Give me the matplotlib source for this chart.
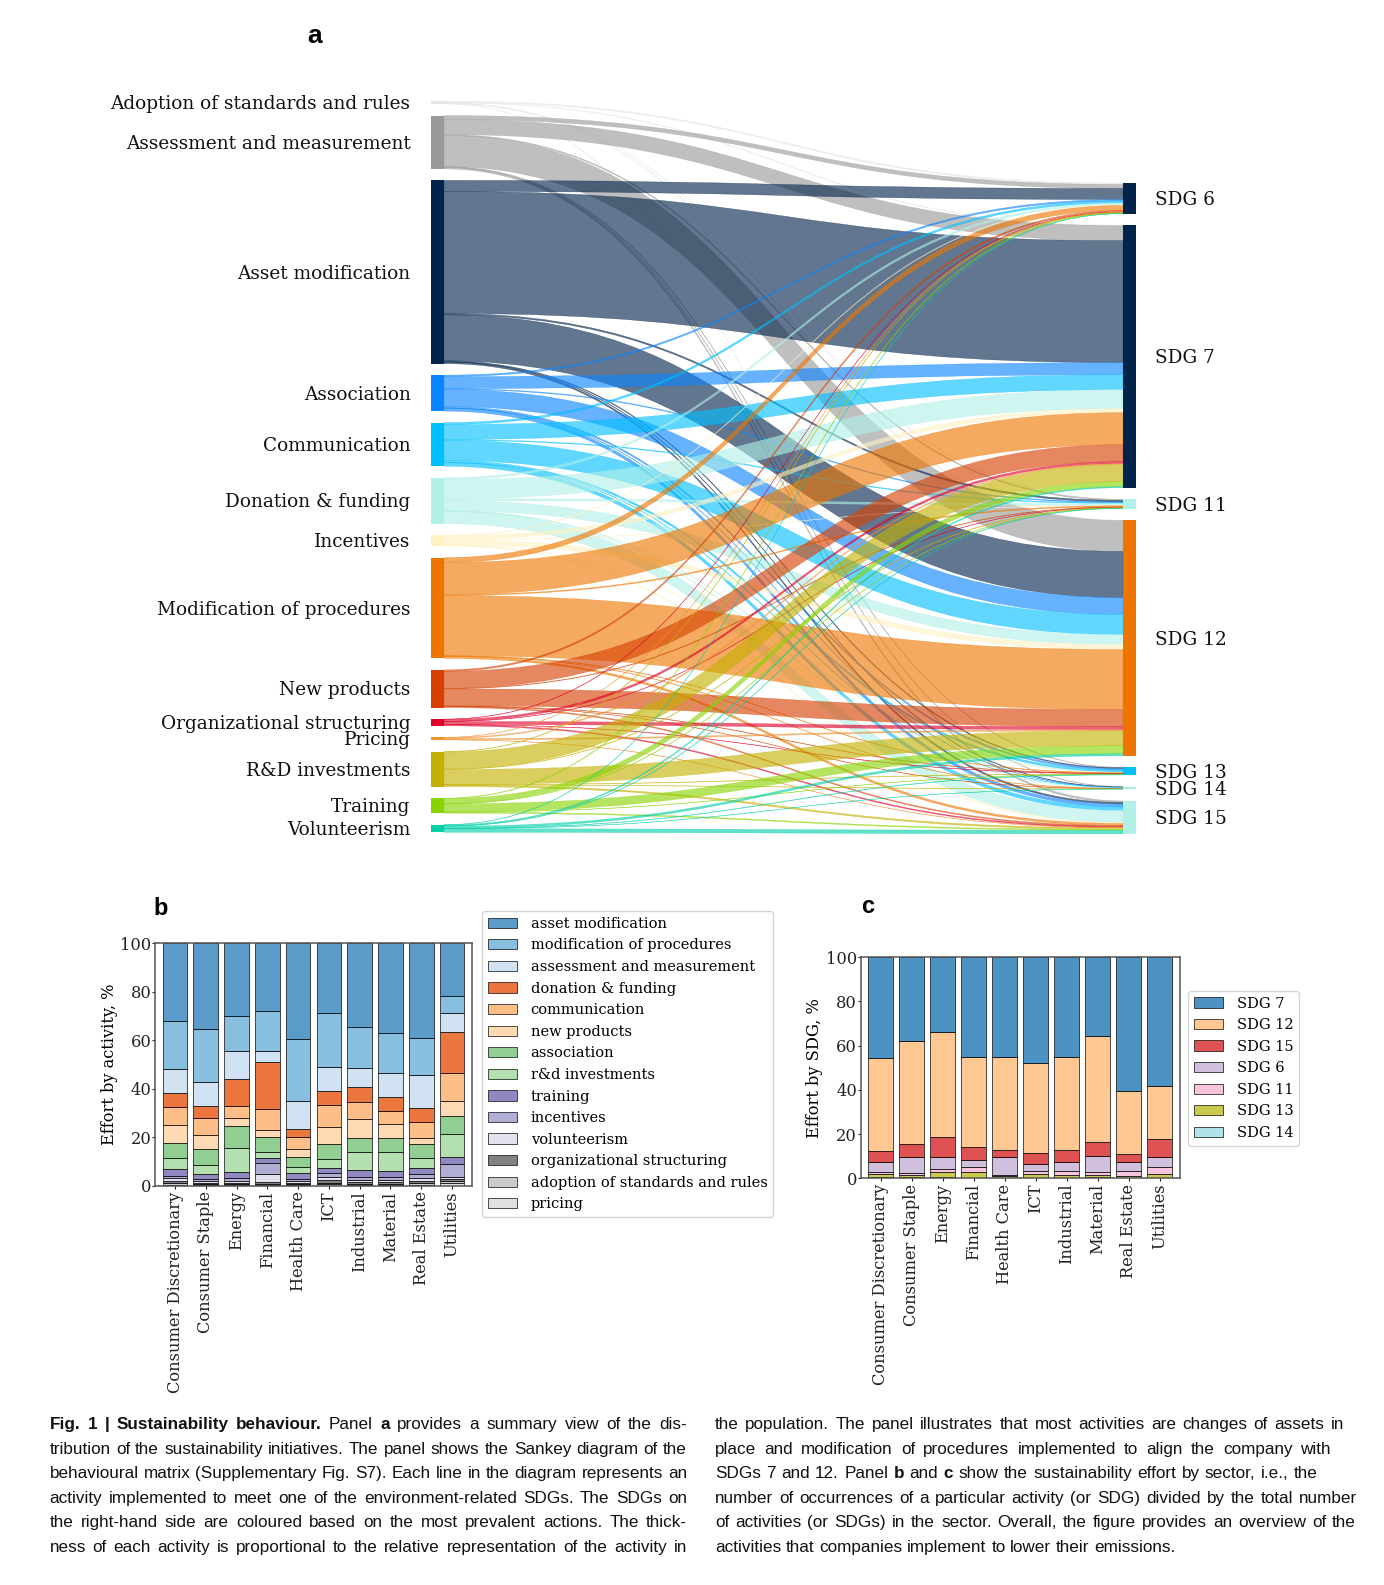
import numpy as np
import matplotlib
matplotlib.use('Agg')
import matplotlib.pyplot as plt
from matplotlib.path import Path
from matplotlib.patches import PathPatch, Rectangle
from matplotlib import font_manager as fm
import matplotlib.transforms as mtransforms

# ------------------------------------------------------------------ data
# Panel a : Sankey (activity -> SDG flows)
activities = ['Adoption of standards and rules', 'Assessment and measurement',
              'Asset modification', 'Association', 'Communication',
              'Donation & funding', 'Incentives', 'Modification of procedures',
              'New products', 'Organizational structuring', 'Pricing',
              'R&D investments', 'Training', 'Volunteerism']
activity_colors = ['#e4e6e6', '#999999', '#02234a', '#0a84ff', '#00bfff',
                   '#b0f0e6', '#fff2c4', '#ee7600', '#d64000', '#e0002a',
                   '#f09030', '#c4b000', '#88d400', '#00d0a8']
sdgs = ['SDG 6', 'SDG 7', 'SDG 11', 'SDG 12', 'SDG 13', 'SDG 14', 'SDG 15']
#                      SDG6  SDG7  SDG11 SDG12 SDG13 SDG14 SDG15
flow_adoption       = [1.5,  0.5,  0.2,  0.5,  0.0,  0.0,  0.3]
flow_assessment     = [4.0, 15.0,  1.0, 31.0,  0.5,  0.4,  1.5]
flow_asset          = [11.0, 122.0, 1.5, 46.0, 0.8,  0.4,  1.5]
flow_association    = [1.5, 12.0,  0.8, 17.0,  1.5,  0.2,  3.0]
flow_communication  = [2.0, 15.0,  0.8, 20.0,  2.0,  0.3,  3.5]
flow_donation       = [2.0, 19.0,  2.0, 10.0,  0.4,  0.5, 12.0]
flow_incentives     = [0.5,  4.0,  0.3,  5.0,  0.2,  0.0,  1.0]
flow_modproc        = [5.0, 32.0,  1.0, 60.0,  0.5,  0.3,  2.0]
flow_newproducts    = [1.5, 17.0,  0.5, 17.0,  0.4,  0.2,  1.0]
flow_orgstruct      = [0.3,  2.0,  0.2,  3.0,  0.3,  0.0,  1.0]
flow_pricing        = [0.2,  1.0,  0.0,  1.2,  0.0,  0.0,  0.3]
flow_rnd            = [0.5, 17.0,  0.5, 15.0,  0.4,  0.2,  1.5]
flow_training       = [0.5,  5.0,  0.3,  8.0,  0.3,  0.0,  1.0]
flow_volunteerism   = [0.2,  1.0,  0.3,  2.0,  0.4,  0.2,  3.5]

# Panel b : effort by activity, %
sectors = ['Consumer Discretionary', 'Consumer Staple', 'Energy', 'Financial',
           'Health Care', 'ICT', 'Industrial', 'Material', 'Real Estate', 'Utilities']
b_labels = ['asset modification', 'modification of procedures',
            'assessment and measurement', 'donation & funding', 'communication',
            'new products', 'association', 'r&d investments', 'training',
            'incentives', 'volunteerism', 'organizational structuring',
            'adoption of standards and rules', 'pricing']
b_colors = ['#3182bd', '#6baed6', '#c6dbef', '#e6550d', '#fdae6b', '#fdd0a2',
            '#74c476', '#a1d99b', '#756bb1', '#9e9ac8', '#dadaeb', '#636363',
            '#bdbdbd', '#d9d9d9']
b_asset        = [32.2, 35.2, 30.1, 28.1, 39.7, 29.0, 34.5, 37.0, 39.3, 21.8]
b_modproc      = [19.7, 22.2, 14.3, 16.3, 25.4, 22.0, 16.9, 16.4, 15.1, 7.2]
b_assessment   = [10.0, 9.6, 11.5, 4.6, 11.5, 9.8, 7.8, 9.9, 13.7, 7.6]
b_donation     = [5.5, 5.1, 11.1, 19.2, 3.4, 5.9, 6.4, 6.0, 5.7, 16.7]
b_communication= [7.3, 6.8, 5.1, 8.8, 4.7, 9.1, 7.0, 5.2, 6.6, 11.8]
b_newproducts  = [7.8, 5.8, 3.1, 2.7, 3.5, 7.1, 7.8, 5.9, 2.5, 6.0]
b_association  = [6.1, 6.5, 9.0, 6.2, 3.9, 6.0, 5.8, 5.8, 5.7, 7.5]
b_rnd          = [4.6, 3.9, 10.0, 2.7, 2.7, 3.8, 7.1, 7.8, 4.1, 9.6]
b_training     = [2.6, 2.0, 2.6, 2.1, 2.3, 2.1, 3.1, 2.4, 2.5, 2.6]
b_incentives   = [1.0, 0.8, 1.0, 4.4, 0.8, 1.4, 1.1, 1.1, 1.6, 5.6]
b_volunteerism = [1.1, 0.7, 0.8, 3.4, 0.9, 1.3, 0.9, 0.9, 1.1, 0.7]
b_orgstruct    = [1.0, 0.6, 0.7, 0.7, 0.5, 1.1, 0.6, 0.6, 1.0, 1.0]
b_adoption     = [0.6, 0.4, 0.4, 0.4, 0.4, 0.7, 0.5, 0.5, 0.6, 0.7]
b_pricing      = [0.5, 0.4, 0.3, 0.4, 0.3, 0.7, 0.5, 0.5, 0.5, 1.2]

# Panel c : effort by SDG, %
c_labels = ['SDG 7', 'SDG 12', 'SDG 15', 'SDG 6', 'SDG 11', 'SDG 13', 'SDG 14']
c_colors = ['#1f77b4', '#ffbb78', '#d62728', '#c5b0d5', '#f7b6d2', '#bcbd22', '#9edae5']
c_sdg7  = [45.7, 37.9, 33.9, 45.2, 44.9, 47.7, 45.2, 35.6, 60.5, 58.1]
c_sdg12 = [41.8, 46.7, 47.4, 40.5, 42.3, 41.0, 42.0, 48.1, 28.6, 24.3]
c_sdg15 = [5.0, 5.9, 9.0, 6.0, 3.0, 5.0, 5.3, 6.0, 3.4, 8.1]
c_sdg6  = [4.8, 7.2, 5.6, 3.0, 8.3, 3.0, 4.0, 7.3, 4.2, 4.5]
c_sdg11 = [0.7, 0.6, 1.4, 2.6, 0.4, 1.3, 2.0, 1.5, 2.1, 3.2]
c_sdg13 = [1.5, 1.2, 2.2, 2.4, 0.8, 1.7, 1.2, 1.0, 0.9, 1.5]
c_sdg14 = [0.5, 0.5, 0.5, 0.3, 0.3, 0.3, 0.3, 0.5, 0.3, 0.3]

# Caption (words starting with '*' are bold)
cap_left = [
    "*Fig. *1 *| *Sustainability *behaviour. Panel *a provides a summary view of the dis-",
    "tribution of the sustainability initiatives. The panel shows the Sankey diagram of the",
    "behavioural matrix (Supplementary Fig. S7). Each line in the diagram represents an",
    "activity implemented to meet one of the environment-related SDGs. The SDGs on",
    "the right-hand side are coloured based on the most prevalent actions. The thick-",
    "ness of each activity is proportional to the relative representation of the activity in",
]
cap_right = [
    "the population. The panel illustrates that most activities are changes of assets in",
    "place and modification of procedures implemented to align the company with",
    "SDGs 7 and 12. Panel *b and *c show the sustainability effort by sector, i.e., the",
    "number of occurrences of a particular activity (or SDG) divided by the total number",
    "of activities (or SDGs) in the sector. Overall, the figure provides an overview of the",
    "activities that companies implement to lower their emissions.",
]
cap_right_ends = [1344, 1331, 1318, 1357, 1356, None]

# ------------------------------------------------------------------ figure
W, H = 1384, 1585
plt.rcParams['font.family'] = ['DejaVu Serif']
fig = plt.figure(figsize=(W / 100, H / 100), dpi=100)
fig.patch.set_facecolor('white')


def fbox(l, t, r, b):
    return [l / W, 1 - b / H, (r - l) / W, (b - t) / H]


# ------------------------------------------------------------------ panel a
flows = np.array([flow_adoption, flow_assessment, flow_asset, flow_association,
                  flow_communication, flow_donation, flow_incentives, flow_modproc,
                  flow_newproducts, flow_orgstruct, flow_pricing, flow_rnd,
                  flow_training, flow_volunteerism])
n_act, n_sdg = flows.shape
out_tot = flows.sum(axis=1)
in_tot = flows.sum(axis=0)
pad = 11.5
right_offset = 82.0
left_top = np.concatenate([[0.0], np.cumsum(out_tot + pad)[:-1]])
right_top = right_offset + np.concatenate([[0.0], np.cumsum(in_tot + pad)[:-1]])

axa = fig.add_axes(fbox(431, 90, 1136, 845))
axa.set_xlim(0, 1)
axa.set_ylim(744, -11)
axa.axis('off')
nw = 13 / 705.0

src_pos = np.zeros_like(flows)
tgt_pos = np.zeros_like(flows)
for i in range(n_act):
    c = left_top[i]
    for j in range(n_sdg):
        src_pos[i, j] = c
        c += flows[i, j]
for j in range(n_sdg):
    c = right_top[j]
    for i in range(n_act):
        tgt_pos[i, j] = c
        c += flows[i, j]

x0, x1 = nw, 1 - nw
xm = (x0 + x1) / 2
codes = [Path.MOVETO, Path.CURVE4, Path.CURVE4, Path.CURVE4, Path.LINETO,
         Path.CURVE4, Path.CURVE4, Path.CURVE4, Path.CLOSEPOLY]
for i in range(n_act):
    for j in range(n_sdg):
        v = flows[i, j]
        if v <= 0:
            continue
        ys, yt = src_pos[i, j], tgt_pos[i, j]
        verts = [(x0, ys), (xm, ys), (xm, yt), (x1, yt), (x1, yt + v),
                 (xm, yt + v), (xm, ys + v), (x0, ys + v), (x0, ys)]
        axa.add_patch(PathPatch(Path(verts, codes), facecolor=activity_colors[i],
                                edgecolor=activity_colors[i], lw=0.3, alpha=0.62))

fs_a = 13.3
off = 0.365 * fs_a * 100 / 72
for i in range(n_act):
    axa.add_patch(Rectangle((0, left_top[i]), nw, out_tot[i], color=activity_colors[i], lw=0))
    axa.text(-0.029, left_top[i] + out_tot[i] / 2 + off, activities[i], ha='right',
             va='baseline', fontsize=fs_a, color='#111111', clip_on=False)
for j in range(n_sdg):
    col = activity_colors[int(np.argmax(flows[:, j]))]
    axa.add_patch(Rectangle((1 - nw, right_top[j]), nw, in_tot[j], color=col, lw=0))
    axa.text(1.027, right_top[j] + in_tot[j] / 2 + off, sdgs[j], ha='left',
             va='baseline', fontsize=fs_a, color='#111111', clip_on=False)

# ------------------------------------------------------------------ panels b, c
tick_fs = 11.7


def style_axes(ax):
    for s in ax.spines.values():
        s.set_color('#555555')
        s.set_linewidth(1.1)
    ax.tick_params(axis='y', length=2.2, width=0.8, pad=0.4, labelsize=tick_fs, colors='#222222')
    ax.tick_params(axis='x', length=2.2, width=0.8, pad=1.6, labelsize=tick_fs, colors='#222222')


def stacked(ax, labels, series, colors, ylabel, leg_anchor):
    x = np.arange(len(sectors))
    bottom = np.zeros(len(sectors))
    for lab, vals, col in list(zip(labels, series, colors))[::-1]:
        ax.bar(x, vals, 0.8, bottom=bottom, color=col, alpha=0.8, edgecolor='black',
               linewidth=0.6, label=lab)
        bottom += np.asarray(vals)
    ax.set_xlim(-0.65, len(sectors) - 0.35)
    ax.set_ylim(0, 100)
    ax.set_yticks([0, 20, 40, 60, 80, 100])
    ax.set_xticks(x)
    ax.set_xticklabels(sectors, rotation=90)
    ax.set_ylabel(ylabel, fontsize=tick_fs)
    ax.yaxis.set_label_coords(-0.117, 0.5)
    style_axes(ax)
    h, l = ax.get_legend_handles_labels()
    ax.legend(h[::-1], l[::-1], loc='upper left', bbox_to_anchor=leg_anchor,
              bbox_transform=fig.transFigure, borderaxespad=0, fontsize=10.5,
              labelspacing=0.52, handlelength=2.05, handletextpad=0.9)


axb = fig.add_axes(fbox(155, 943, 472, 1186))
stacked(axb, b_labels,
        [b_asset, b_modproc, b_assessment, b_donation, b_communication, b_newproducts,
         b_association, b_rnd, b_training, b_incentives, b_volunteerism, b_orgstruct,
         b_adoption, b_pricing],
        b_colors, 'Effort by activity, %', (481.7 / W, 1 - 911 / H))

axc = fig.add_axes(fbox(860.7, 957.3, 1180, 1178.3))
stacked(axc, c_labels,
        [c_sdg7, c_sdg12, c_sdg15, c_sdg6, c_sdg11, c_sdg13, c_sdg14],
        c_colors, 'Effort by SDG, %', (1187.7 / W, 1 - 990.7 / H))

# panel letters
ident = mtransforms.IdentityTransform()
fig.text(307 / W, 1 - 42.7 / H, 'a', fontsize=19, fontweight='bold', family='Liberation Sans',
         ha='left', va='baseline')
fig.text(153 / W, 1 - 915 / H, 'b', fontsize=17, fontweight='bold', family='Liberation Sans',
         ha='left', va='baseline')
fig.text(861 / W, 1 - 913.3 / H, 'c', fontsize=17, fontweight='bold', family='Liberation Sans',
         ha='left', va='baseline')


# ------------------------------------------------------------------ caption
def has_font(name):
    try:
        fm.findfont(fm.FontProperties(family=name), fallback_to_default=False)
        return True
    except Exception:
        return False


narrow = has_font('Liberation Sans Narrow')
cap_family = 'Liberation Sans Narrow' if narrow else 'Liberation Sans'
cap_fs = 13.5 if narrow else 12.3

renderer = fig.canvas.get_renderer()


def measure(s, bold):
    t = fig.text(0, 0, s, fontsize=cap_fs, family=cap_family,
                 fontweight='bold' if bold else 'normal', transform=ident)
    w = t.get_window_extent(renderer).width
    t.remove()
    return w


space_w = measure('x x', False) - measure('xx', False)


def draw_line(line, xl, xr, y_base):
    words = []
    for tok in line.split(' '):
        bold = tok.startswith('*')
        words.append((tok.lstrip('*'), bold))
    widths = [measure(w, b) for w, b in words]
    nat = sum(widths)
    if xr is None or len(words) < 2:
        gap = space_w
    else:
        gap = max((xr - xl - nat) / (len(words) - 1), 0.6 * space_w)
    x = xl
    for (w, b), wd in zip(words, widths):
        fig.text(x, H - y_base, w, fontsize=cap_fs, family=cap_family,
                 fontweight='bold' if b else 'normal', transform=ident,
                 ha='left', va='baseline', color='#111111')
        x += wd + gap


base0 = 1429.0
lstep = 24.6
for k, line in enumerate(cap_left):
    draw_line(line, 49.5, 687.0, base0 + k * lstep)
for k, line in enumerate(cap_right):
    draw_line(line, 715.0, cap_right_ends[k], base0 + k * lstep)

fig.savefig('out.png', dpi=100, facecolor='white')
